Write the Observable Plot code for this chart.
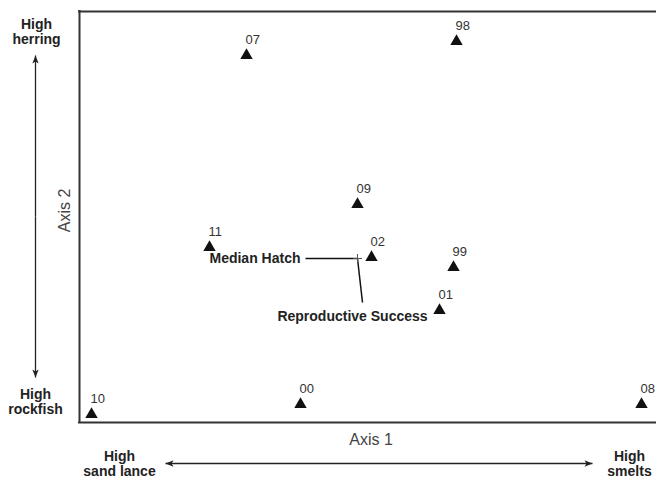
<!DOCTYPE html>
<html><head><meta charset="utf-8">
<script src="https://cdn.jsdelivr.net/npm/d3@7"></script>
<script src="https://cdn.jsdelivr.net/npm/@observablehq/plot@0.6"></script>
<style>
html,body{margin:0;padding:0;background:#fff;overflow:hidden}
</style></head><body><div id="chart"></div>
<script>
// Ordination scores by year (Axis 1, Axis 2)
const years = ["07","98","09","11","02","99","01","10","00","08"];
const axis1 = [-0.555, 0.495, 0.0, -0.74, 0.07, 0.48, 0.41, -1.33, -0.285, 1.42];
const axis2 = [1.015, 1.085, 0.27, 0.055, 0.005, -0.045, -0.26, -0.78, -0.73, -0.73];

// Environmental vectors
const vectorNames = ["Median Hatch", "Reproductive Success"];
const vectorAxis1 = [-0.26, 0.025];
const vectorAxis2 = [0, -0.22];

// Axis titles and gradient end labels (in axis units)
const axisTitles = ["Axis 1", "Axis 2"];
const axisTitleX = [0.0675, -1.465];
const axisTitleY = [-0.905, 0.24];
const endLabels = ["High\nherring", "High\nrockfish", "High\nsand lance", "High\nsmelts"];
const endX = [-1.605, -1.61, -1.19, 1.36];
const endY = [1.135, -0.715, -1.025, -1.025];
// gradient arrows: start (centre) and tip
const arrowX1 = [-1.61, -1.61, 0.1075, 0.1075];
const arrowY1 = [0.21, 0.21, -1.025, -1.025];
const arrowX2 = [-1.61, -1.61, -0.96, 1.175];
const arrowY2 = [1.015, -0.595, -1.025, -1.025];
const arrowDir = [0, 180, -90, 90];

const xDomain = [-1.39, 1.495];
const yDomain = [-0.82, 1.235];

const points = years.map((t, i) => ({t, x: axis1[i], y: axis2[i]}));
const vectors = vectorNames.map((n, i) => ({n, x: vectorAxis1[i], y: vectorAxis2[i]}));
const titles = axisTitles.map((t, i) => ({t, x: axisTitleX[i], y: axisTitleY[i]}));
const ends = endLabels.map((t, i) => ({t, x: endX[i], y: endY[i]}));
const arrows = arrowX1.map((x1, i) => ({x1, y1: arrowY1[i], x2: arrowX2[i], y2: arrowY2[i], r: arrowDir[i]}));

const arrowHead = {
  draw(ctx) {
    ctx.moveTo(0, 0);
    ctx.lineTo(-3.2, 8);
    ctx.lineTo(0, 6);
    ctx.lineTo(3.2, 8);
    ctx.closePath();
  }
};

const font = "'Liberation Sans', Arial, Helvetica, sans-serif";

const chart = Plot.plot({
  width: 656,
  height: 480,
  marginLeft: 79,
  marginRight: 0,
  marginTop: 11,
  marginBottom: 58,
  style: {fontFamily: font, background: "#fff", overflow: "visible"},
  x: {domain: xDomain, axis: null},
  y: {domain: yDomain, axis: null},
  marks: [
    Plot.ruleY([yDomain[0], yDomain[1]], {stroke: "#333", strokeWidth: 2, strokeLinecap: "square"}),
    Plot.ruleX([xDomain[0]], {stroke: "#333", strokeWidth: 2, strokeLinecap: "square"}),
    // vectors
    Plot.link(vectors, {x1: () => 0, y1: () => 0, x2: "x", y2: "y", stroke: "#111", strokeWidth: 1.5}),
    Plot.dot([0], {x: () => 0, y: () => 0, symbol: "plus", r: 3, stroke: "#555", strokeWidth: 1}),
    Plot.text(vectors.filter((d, i) => i === 0), {x: "x", y: "y", text: "n", textAnchor: "end", dx: -5, fontSize: 14, fontWeight: "bold", fill: "#222"}),
    Plot.text(vectors.filter((d, i) => i === 1), {x: "x", y: "y", text: "n", textAnchor: "middle", dx: -10, dy: 14, fontSize: 14, fontWeight: "bold", fill: "#222"}),
    // year points
    Plot.dot(points, {x: "x", y: "y", symbol: "triangle", r: 4.6, fill: "#111", stroke: "none"}),
    Plot.text(points, {x: "x", y: "y", text: "t", textAnchor: "start", dx: -1, dy: -16, fontSize: 13, fill: "#333"}),
    // axis titles
    Plot.text(titles.filter((d, i) => i === 0), {x: "x", y: "y", text: "t", fontSize: 16, fill: "#444"}),
    Plot.text(titles.filter((d, i) => i === 1), {x: "x", y: "y", text: "t", fontSize: 16, fill: "#444", rotate: -90}),
    // gradient arrows and end labels
    Plot.link(arrows, {x1: "x1", y1: "y1", x2: "x2", y2: "y2", stroke: "#222", strokeWidth: 1.3}),
    Plot.dot(arrows, {x: "x2", y: "y2", symbol: arrowHead, rotate: "r", fill: "#222", stroke: "none"}),
    Plot.text(ends, {x: "x", y: "y", text: "t", fontSize: 14, fontWeight: "bold", fill: "#222", lineHeight: 1.07})
  ]
});
document.getElementById("chart").appendChild(chart);
</script>
</body></html>
